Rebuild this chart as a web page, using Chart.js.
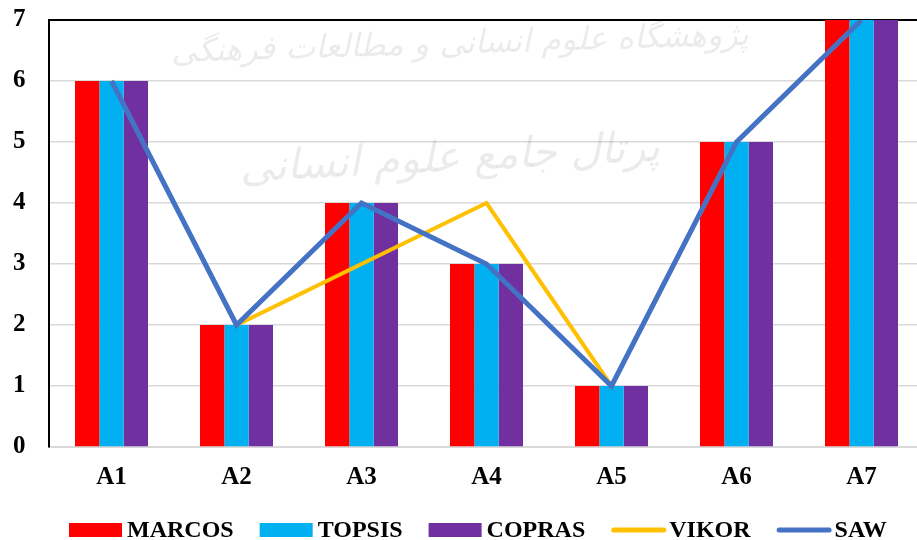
<!DOCTYPE html>
<html>
<head>
<meta charset="utf-8">
<script src="https://cdn.jsdelivr.net/npm/chart.js@4"></script>
<style>
  html, body { margin: 0; padding: 0; background: #fff; overflow: hidden; }
  #wrap { width: 924px; height: 540px; }
</style>
</head>
<body>
<div id="wrap"><canvas id="chart"></canvas></div>
<script>
// dati
const categories = ['A1', 'A2', 'A3', 'A4', 'A5', 'A6', 'A7'];
const marcos = [6, 2, 4, 3, 1, 5, 7];
const topsis = [6, 2, 4, 3, 1, 5, 7];
const copras = [6, 2, 4, 3, 1, 5, 7];
const vikor = [6, 2, 3, 4, 1, 5, 7];
const saw = [6, 2, 4, 3, 1, 5, 7];
const yTicks = [0, 1, 2, 3, 4, 5, 6, 7];
const watermark = ['پژوهشگاه علوم انسانی و مطالعات فرهنگی', 'پرتال جامع علوم انسانی'];

const serif = 'Liberation Serif';

// filigrana sfumata dietro le barre
const watermarkPlugin = {
    id: 'watermark',
    beforeDatasetsDraw(chart) {
        const ctx = chart.ctx;
        const lines = [
            { text: watermark[0], x: 460, y: 45, size: 32, rot: -0.03 },
            { text: watermark[1], x: 450, y: 160, size: 42, rot: -0.05 }
        ];
        lines.forEach(l => {
            ctx.save();
            ctx.fillStyle = 'rgba(0,0,0,0.08)';
            ctx.textAlign = 'center';
            ctx.textBaseline = 'middle';
            ctx.font = 'italic ' + l.size + 'px "DejaVu Sans"';
            ctx.translate(l.x, l.y);
            ctx.rotate(l.rot);
            ctx.fillText(l.text, 0, 0);
            ctx.restore();
        });
    }
};

// legenda disegnata a mano (stile Excel)
const legendPlugin = {
    id: 'excelLegend',
    afterDraw(chart) {
        const ctx = chart.ctx;
        ctx.save();
        ctx.font = 'bold 24px "' + serif + '"';
        ctx.textBaseline = 'alphabetic';
        ctx.textAlign = 'left';
        let x = 69;
        const base = 537;
        chart.data.datasets.forEach(ds => {
            if (ds.type === 'line') {
                ctx.strokeStyle = ds.borderColor;
                ctx.lineWidth = 5;
                ctx.lineCap = 'round';
                ctx.beginPath();
                ctx.moveTo(x + 2.5, 530);
                ctx.lineTo(x + 52.5, 530);
                ctx.stroke();
            } else {
                ctx.fillStyle = ds.backgroundColor;
                ctx.fillRect(x, 523, 53, 14);
            }
            x += 58;
            ctx.fillStyle = '#000';
            ctx.fillText(ds.label, x, base);
            x += ctx.measureText(ds.label).width + 26;
        });
        ctx.restore();
    }
};

const barOpts = { type: 'bar', order: 3, categoryPercentage: 0.584, barPercentage: 1.0, borderWidth: 0 };

function draw() {
    new Chart(document.getElementById('chart'), {
        data: {
            labels: categories,
            datasets: [
                { ...barOpts, label: 'MARCOS', data: marcos, backgroundColor: '#FF0000' },
                { ...barOpts, label: 'TOPSIS', data: topsis, backgroundColor: '#00B0F0' },
                { ...barOpts, label: 'COPRAS', data: copras, backgroundColor: '#7030A0' },
                { type: 'line', order: 2, label: 'VIKOR', data: vikor, borderColor: '#FFC000', backgroundColor: '#FFC000', borderWidth: 4, pointRadius: 0, tension: 0 },
                { type: 'line', order: 1, label: 'SAW', data: saw, borderColor: '#4472C4', backgroundColor: '#4472C4', borderWidth: 5, pointRadius: 0, tension: 0 }
            ]
        },
        plugins: [watermarkPlugin, legendPlugin],
        options: {
            responsive: true,
            maintainAspectRatio: false,
            animation: false,
            layout: { autoPadding: false, padding: { top: 20, left: 13, right: 0, bottom: 39 } },
            scales: {
                x: {
                    grid: { display: false },
                    border: { display: true, color: '#d9d9d9', width: 2 },
                    ticks: { color: '#000', padding: 8, font: { family: serif, size: 25, weight: 'bold' } }
                },
                y: {
                    min: 0,
                    max: 7,
                    afterBuildTicks: s => { s.ticks = yTicks.map(v => ({ value: v })); },
                    afterFit: s => { s.width = 36; },
                    grid: {
                        color: c => c.tick.value === 7 ? '#000' : '#d9d9d9',
                        lineWidth: c => c.tick.value === 7 ? 2 : 1.5,
                        drawTicks: false
                    },
                    border: { display: true, color: '#000', width: 2 },
                    ticks: { color: '#000', padding: 0, crossAlign: 'far', font: { family: serif, size: 25, weight: 'bold' } }
                }
            },
            plugins: {
                tooltip: { enabled: false },
                legend: { display: false }
            }
        }
    });
}

document.fonts.load('bold 24px "Liberation Serif"').then(draw, draw);
</script>
</body>
</html>
